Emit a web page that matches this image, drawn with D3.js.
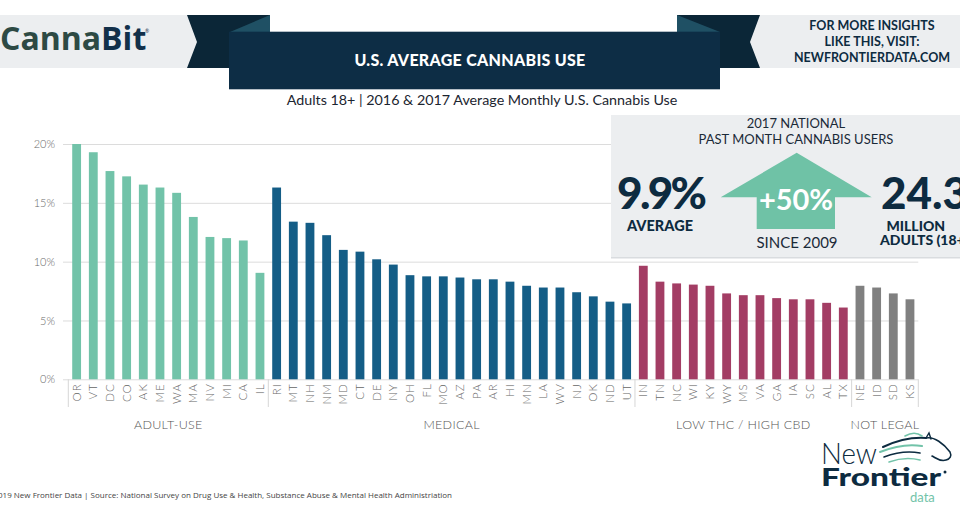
<!DOCTYPE html>
<html><head><meta charset="utf-8">
<script src="https://cdn.jsdelivr.net/npm/d3@7"></script>
<style>
body{margin:0;background:#fff}
svg{display:block;font-family:Lato,"Open Sans",sans-serif}
</style>
</head><body>
<svg id="chart" width="960" height="520"></svg>
<script>
// ---------- DATA ----------
const groups = ["ADULT-USE", "MEDICAL", "LOW THC / HIGH CBD", "NOT LEGAL"];
const groupCounts = [12, 22, 13, 4];
const states = ["OR","VT","DC","CO","AK","ME","WA","MA","NV","MI","CA","IL",
  "RI","MT","NH","NM","MD","CT","DE","NY","OH","FL","MO","AZ","PA","AR","HI","MN","LA","WV","NJ","OK","ND","UT",
  "IN","TN","NC","WI","KY","WY","MS","VA","GA","IA","SC","AL","TX",
  "NE","ID","SD","KS"];
const usage = [20.0,19.3,17.7,17.25,16.55,16.3,15.85,13.8,12.1,12.0,11.8,9.05,
  16.3,13.4,13.3,12.25,11.0,10.85,10.2,9.75,8.85,8.75,8.75,8.65,8.5,8.5,8.3,7.95,7.8,7.8,7.4,7.05,6.6,6.45,
  9.65,8.3,8.15,8.05,7.95,7.3,7.15,7.15,6.9,6.8,6.8,6.5,6.1,
  7.95,7.8,7.3,6.8];
const yTicks = [0, 5, 10, 15, 20];
const groupColors = ["#72c3a9", "#145d86", "#a33d64", "#808080"];

// ---------- SETUP ----------
const svg = d3.select("#chart");
const navy = "#0d2b40";
const groupOf = [];
groupCounts.forEach((n, gi) => { for (let i = 0; i < n; i++) groupOf.push(gi); });

const x = d3.scaleBand().domain(states).range([68.3, 918.3]).paddingInner(0.47).paddingOuter(0.235);
const y = d3.scaleLinear().domain([0, 20]).range([379.3, 144]);

// ---------- HEADER ----------
const hdr = svg.append("g");
hdr.append("rect").attr("x", 0).attr("y", 15).attr("width", 200).attr("height", 53).attr("fill", "#eceef0");
hdr.append("rect").attr("x", 750).attr("y", 15).attr("width", 210).attr("height", 53).attr("fill", "#eceef0");
hdr.append("polygon").attr("points", "187,15 270,15 270,68 187,68 197,42").attr("fill", "#0b2637");
hdr.append("polygon").attr("points", "677,15 760,15 750,42 760,68 677,68").attr("fill", "#0b2637");
hdr.append("polygon").attr("points", "230,32 270,15 270,32").attr("fill", "#1f5064");
hdr.append("polygon").attr("points", "677,15 720,32 677,32").attr("fill", "#1f5064");
hdr.append("rect").attr("x", 229).attr("y", 31.7).attr("width", 491).attr("height", 57.6).attr("fill", "#0d2d45");
hdr.append("text").attr("x", 470).attr("y", 66).attr("text-anchor", "middle")
  .attr("fill", "#fff").attr("font-size", 16).attr("font-weight", 900).attr("letter-spacing", 0.3)
  .text("U.S. AVERAGE CANNABIS USE");
const logo = hdr.append("text").attr("x", 0).attr("y", 50).attr("font-family", "'Open Sans',sans-serif")
  .attr("font-size", 32).attr("font-weight", 700);
logo.append("tspan").attr("fill", "#2d4a44").text("Canna");
logo.append("tspan").attr("fill", "#12304a").text("Bit");
hdr.append("text").attr("x", 145).attr("y", 33).attr("font-size", 5).attr("fill", "#12304a").text("®");
["FOR MORE INSIGHTS", "LIKE THIS, VISIT:", "NEWFRONTIERDATA.COM"].forEach((t, i) => {
  hdr.append("text").attr("x", 872).attr("y", [30, 46, 61.5][i]).attr("text-anchor", "middle")
    .attr("fill", navy).attr("font-size", 12.5).attr("font-weight", 700).text(t);
});
svg.append("text").attr("x", 482).attr("y", 104.5).attr("text-anchor", "middle")
  .attr("fill", "#1c2530").attr("font-size", 14.3)
  .text("Adults 18+ | 2016 & 2017 Average Monthly U.S. Cannabis Use");

// ---------- GRID / Y AXIS ----------
const yAxis = svg.append("g").attr("transform", "translate(63,0)")
  .call(d3.axisLeft(y).tickValues(yTicks).tickSize(-(918.3 - 63)).tickPadding(8).tickFormat(d => d + "%"));
yAxis.select(".domain").remove();
yAxis.selectAll(".tick line").attr("stroke", "#dcdcdc").attr("stroke-width", 1);
yAxis.selectAll(".tick text").attr("fill", "#6b6b6b").attr("font-size", 11).attr("font-family", "Lato")
  .attr("font-weight", 300);

// ---------- INFO BOX ----------
const box = svg.append("g");
box.append("rect").attr("x", 611).attr("y", 115).attr("width", 360).attr("height", 143).attr("fill", "#eceef0");
box.append("rect").attr("x", 611).attr("y", 257).attr("width", 360).attr("height", 1.5).attr("fill", "#d9dcdf");
box.append("text").attr("x", 796).attr("y", 127.5).attr("text-anchor", "middle").attr("fill", "#1b2a38")
  .attr("font-size", 13).text("2017 NATIONAL");
box.append("text").attr("x", 796).attr("y", 144).attr("text-anchor", "middle").attr("fill", "#1b2a38")
  .attr("font-size", 13).text("PAST MONTH CANNABIS USERS");
box.append("polygon").attr("points", "796.7,152.7 871.7,197.3 835,197.3 835,229 756.7,229 756.7,197.3 720.7,197.3")
  .attr("fill", "#6fc2a6");
box.append("text").attr("x", 796).attr("y", 209.5).attr("text-anchor", "middle").attr("fill", "#fff")
  .attr("font-size", 29).attr("font-weight", 700).text("+50%");
box.append("text").attr("x", 797).attr("y", 248.3).attr("text-anchor", "middle").attr("fill", "#1b2a38")
  .attr("font-size", 15).text("SINCE 2009");
box.append("text").attr("x", 617).attr("y", 209).attr("fill", navy)
  .attr("font-size", 44).attr("font-weight", 900).attr("textLength", 90).text("9.9%");
box.append("text").attr("x", 660).attr("y", 231).attr("text-anchor", "middle").attr("fill", navy)
  .attr("font-size", 14.5).attr("font-weight", 900).text("AVERAGE");
box.append("text").attr("x", 881).attr("y", 209).attr("fill", navy)
  .attr("font-size", 44).attr("font-weight", 900).text("24.3");
box.append("text").attr("x", 886.5).attr("y", 231).attr("fill", navy)
  .attr("font-size", 14).attr("font-weight", 900).text("MILLION");
box.append("text").attr("x", 880).attr("y", 244.5).attr("fill", navy)
  .attr("font-size", 14).attr("font-weight", 900).text("ADULTS (18+)");

// ---------- BARS ----------
svg.append("g").selectAll("rect").data(states).join("rect")
  .attr("x", d => x(d))
  .attr("width", x.bandwidth())
  .attr("y", (d, i) => y(usage[i]))
  .attr("height", (d, i) => y(0) - y(usage[i]))
  .attr("fill", (d, i) => groupColors[groupOf[i]]);

// ---------- X AXIS ----------
const xAxis = svg.append("g").attr("transform", `translate(0,${y(0)})`)
  .call(d3.axisBottom(x).tickSize(0).tickPadding(0));
xAxis.select(".domain").remove();
xAxis.selectAll(".tick text")
  .attr("transform", "translate(0,4) rotate(-90)")
  .attr("text-anchor", "end").attr("dy", "0.36em").attr("x", 0).attr("y", 0)
  .attr("fill", "#666").attr("font-size", 11.5).attr("font-family", "Lato").attr("font-weight", 300)
  .attr("letter-spacing", 1);

const step = x.step();
let start = 0;
const sepIdx = [0];
groupCounts.forEach(n => { start += n; sepIdx.push(start); });
svg.append("g").selectAll("line").data(sepIdx).join("line")
  .attr("x1", d => x.range()[0] + d * step).attr("x2", d => x.range()[0] + d * step)
  .attr("y1", y(0)).attr("y2", 407).attr("stroke", "#d6d6d6");
svg.append("g").selectAll("text").data(groups).join("text")
  .attr("x", (d, gi) => x.range()[0] + (sepIdx[gi] + sepIdx[gi + 1]) / 2 * step)
  .attr("y", 429).attr("text-anchor", "middle")
  .attr("fill", "#555").attr("font-size", 12.5).attr("font-weight", 300).attr("letter-spacing", 0.3)
  .text(d => d);

// ---------- FOOTER ----------
svg.append("text").attr("x", 452).attr("y", 497.5).attr("text-anchor", "end")
  .attr("fill", "#444").attr("font-size", 8).attr("font-family", "'Open Sans',sans-serif")
  .text("©2019  New Frontier Data | Source: National Survey on Drug Use & Health, Substance Abuse & Mental Health Administriation");

// New Frontier logo
const nf = svg.append("g");
nf.append("text").attr("x", 821).attr("y", 464).attr("fill", navy).attr("font-size", 29)
  .attr("font-weight", 300).attr("textLength", 56).attr("lengthAdjust", "spacingAndGlyphs").text("New");
nf.append("text").attr("x", 821).attr("y", 486).attr("fill", navy).attr("font-size", 25)
  .attr("font-weight", 900).attr("textLength", 120).attr("lengthAdjust", "spacingAndGlyphs").text("Frontier");
nf.append("circle").attr("cx", 945).attr("cy", 472).attr("r", 1.5).attr("fill", navy);
nf.append("text").attr("x", 910).attr("y", 502).attr("fill", "#72c3a9").attr("font-size", 13)
  .text("data");
const horse = nf.append("g").attr("fill", "none").attr("stroke-linecap", "round");
horse.append("path").attr("d", "M926,438 C934,436 944,444 950,452 C952,456 950,459 946,460 C940,462 936,458 932,456")
  .attr("stroke", navy).attr("stroke-width", 1.6);
horse.append("path").attr("d", "M926,438 L929,433 L931,439").attr("stroke", navy).attr("stroke-width", 1.4);
horse.append("path").attr("d", "M883,447 C898,440 912,437 926,438").attr("stroke", navy).attr("stroke-width", 2);
horse.append("path").attr("d", "M880,452 C895,446 910,444 922,446").attr("stroke", "#72c3a9").attr("stroke-width", 2);
horse.append("path").attr("d", "M884,457 C897,452 910,451 920,453").attr("stroke", navy).attr("stroke-width", 1.6);
horse.append("path").attr("d", "M889,462 C900,458 912,458 920,460").attr("stroke", "#72c3a9").attr("stroke-width", 1.6);
horse.append("path").attr("d", "M905,436 C912,432 918,433 922,436").attr("stroke", "#72c3a9").attr("stroke-width", 1.6);
</script>
</body></html>
